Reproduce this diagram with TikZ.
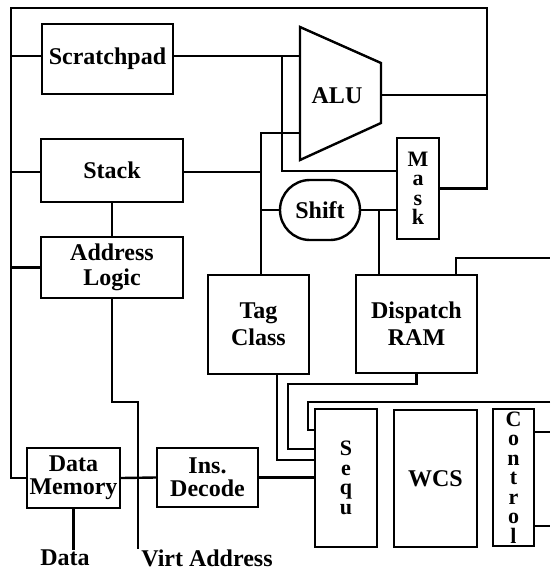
\documentclass[tikz,border=0pt]{standalone}
\usepackage{fontspec}
\setmainfont{Liberation Serif}
\usepackage{tikz}
\usetikzlibrary{positioning, calc}

\tikzset{
  blk/.style={draw, line width=2.4pt, inner sep=0pt, align=center,
    font=\fontsize{24}{25}\selectfont\bfseries},
  tall/.style={blk, font=\fontsize{22}{19.5}\selectfont\bfseries},
  wire/.style={line width=2.4pt},
  lbl/.style={inner sep=0pt, font=\fontsize{24}{25}\selectfont\bfseries},
}

\begin{document}
\begin{tikzpicture}[x=1pt, y=-1pt]
        \useasboundingbox (0,0) rectangle (550,570);
        % blocks
        \node[blk, minimum width=131pt, minimum height=70pt] (scr) at (107.5,59) {Scratchpad};
        \node[blk, minimum width=142pt, minimum height=63pt] (stack) at (112,170.5) {Stack};
        \node[blk, minimum width=142pt, minimum height=61pt] (addr) at (112,267.5) {Address\\Logic};
        \node[blk, minimum width=93pt, minimum height=60pt] (dmem) at (73.5,478) {Data\\[-2pt]Memory};
        \node[blk, minimum width=101pt, minimum height=59pt] (dec) at (207.5,477.5) {Ins.\\[-2pt]Decode};
        \node[blk, minimum width=101pt, minimum height=99pt] (tag) at (258.5,324.5) {Tag\\[2pt]Class};
        \node[blk, minimum width=121pt, minimum height=98pt] (disp) at (416.5,324) {Dispatch\\[2pt]RAM};
        \node[blk, rounded corners=30pt, minimum width=80pt, minimum height=60pt] (shift) at (320,210) {Shift};
        \node[tall, minimum width=42pt, minimum height=101pt] (mask) at (418,188.5) {M\\a\\s\\k};
        \node[tall, minimum width=62pt, minimum height=138pt] (sequ) at (346,478) {S\\e\\q\\u};
        \node[blk, minimum width=83pt, minimum height=137pt] (wcs) at (435.5,478.5) {WCS};
        \node[tall, minimum width=41pt, minimum height=137pt] (ctrl) at (513.5,477.5) {C\\o\\n\\t\\r\\o\\l};
        \node[lbl] (data) at (65,558) {Data};
        \node[lbl] (virt) at (207,558) {Virt Address};

        % ALU
        \coordinate (alutl) at (300,27);
        \coordinate (alutr) at (381,63);
        \coordinate (alubr) at (381,123);
        \coordinate (alubl) at (300,160);
        \draw[wire] (alutl) -- (alutr) -- (alubr) -- (alubl) -- cycle;
        \node[lbl] (alu) at (337,96) {ALU};

        % outer loop
        \coordinate (ftl) at (11,8);
        \coordinate (ftr) at (487,8);
        \draw[wire] (dmem.west) -| (ftl) -- (ftr) |- (mask.east);
        \draw[wire] ([yshift=3pt]scr.west) -- ([yshift=3pt]scr.west -| ftl);
        \draw[wire] ([yshift=-1.5pt]stack.west) -- ([yshift=-1.5pt]stack.west -| ftl);
        \draw[wire] (addr.west) -- (addr.west -| ftl);
        \draw[wire] (381,95) -- (ftr |- 0,95);

        % scratchpad and mask
        \coordinate (mk) at (282,171);
        \draw[wire] ([yshift=3pt]scr.east) -- ([yshift=3pt]scr.east -| alutl);
        \draw[wire] ([yshift=3pt]scr.east -| mk) -- (mk) -- (mk -| mask.west);

        % bus
        \coordinate (bus) at (261,133);
        \draw[wire] (bus -| alutl) -- (bus) -- (bus |- tag.north);
        \draw[wire] ([yshift=-1.5pt]stack.east) -- ([yshift=-1.5pt]stack.east -| bus);
        \draw[wire] (shift.west) -- (shift.west -| bus);
        \draw[wire] (shift.east) -- (shift.east -| mask.west);
        \coordinate (dtop) at (379,210);
        \draw[wire] (dtop) -- (dtop |- disp.north);
        \coordinate (dr) at (456,258);
        \coordinate (redge) at (550,0);
        \draw[wire] (dr |- disp.north) -- (dr) -- (dr -| redge);

        % left column
        \draw[wire] (stack.south) -- (addr.north);
        \coordinate (va) at (138,402);
        \draw[wire] (addr.south) |- (va) -- (va |- virt.north);
        \draw[wire] (dmem.south) -- (dmem.south |- data.north);
        \draw[wire] (dmem.east) -- (dec.west);
        \draw[wire] (dec.east) -- (dec.east -| sequ.west);

        % into the sequencer
        \coordinate (tq) at (277,460);
        \draw[wire] (tag.south -| tq) |- (tq -| sequ.west);
        \coordinate (dq) at (288,449);
        \draw[wire] (disp.south) -- ++(0,10) -| (dq) -- (dq -| sequ.west);
        \coordinate (cq) at (308,430);
        \draw[wire] (redge |- 0,402) -| (cq) -- (cq -| sequ.west);

        % control
        \draw[wire] ([yshift=45.5pt]ctrl.east) -- ([yshift=45.5pt]ctrl.east -| redge);
        \draw[wire] ([yshift=-48.5pt]ctrl.east) -- ([yshift=-48.5pt]ctrl.east -| redge);
    \end{tikzpicture}
\end{document}
